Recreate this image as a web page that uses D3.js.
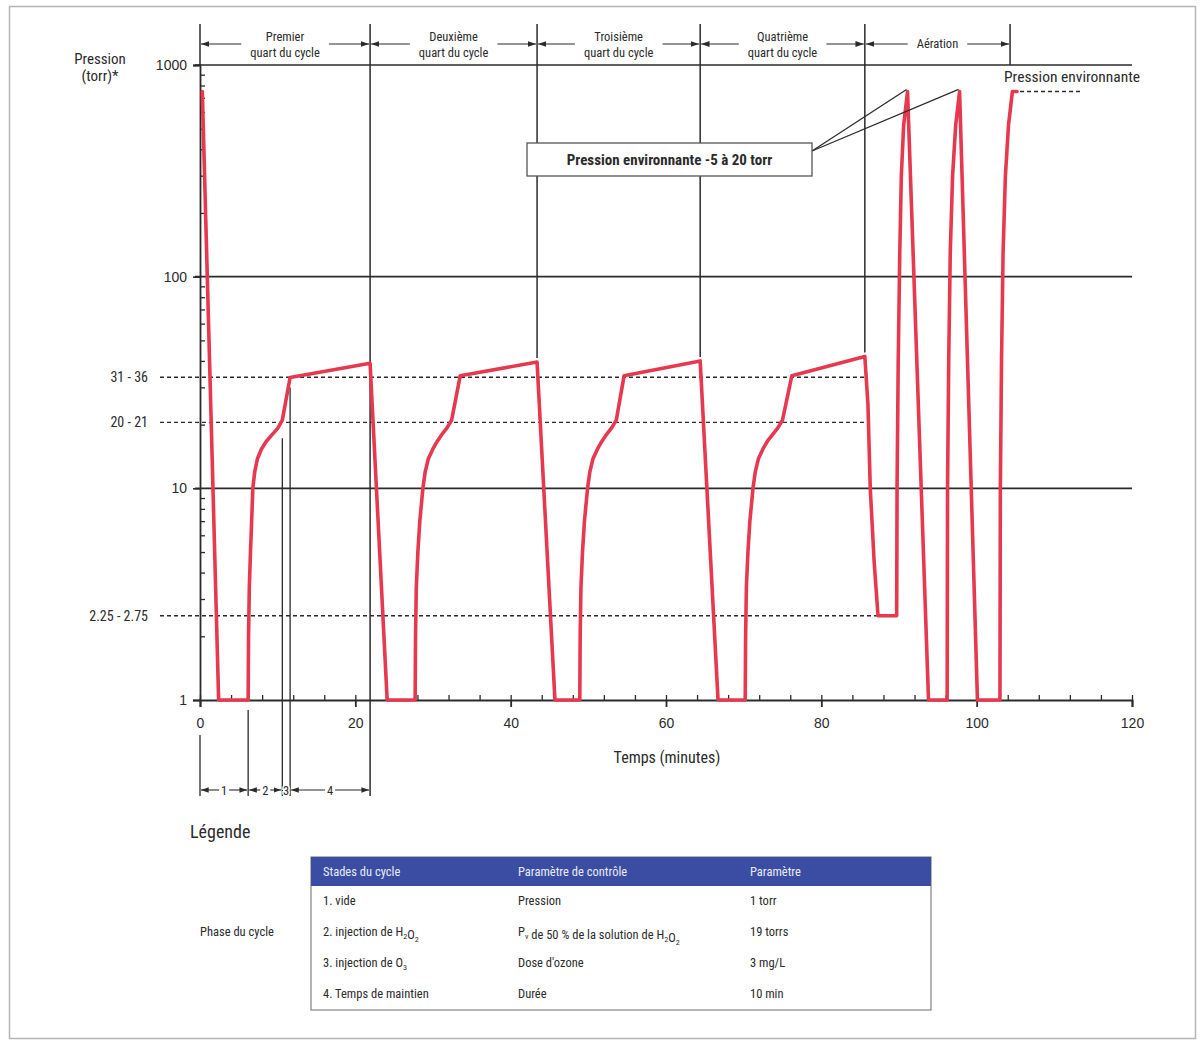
<!DOCTYPE html>
<html lang="fr">
<head>
<meta charset="utf-8">
<script src="https://cdn.jsdelivr.net/npm/d3@7/dist/d3.min.js"></script>
<style>
  body { margin: 0; background: #fff; }
  svg { display: block; font-family: "Liberation Sans Narrow", "Roboto Condensed", "Liberation Sans", Arial, sans-serif; }
  text { fill: #2b2b2b; }
</style>
</head>
<body>
<svg id="chart"></svg>
<script>
// pression (torr) vs temps (minutes)
const timeMin = [
  0.3, 2.4, 6.2, 6.25, 6.35, 6.5, 6.65, 6.8, 7.05, 7.4, 7.9, 8.5, 9.2, 10.0, 10.6, 11.6, 21.9,
  24.1, 27.7, 27.75, 27.85, 28.05, 28.3, 28.7, 29.0, 29.4, 30.0, 30.6, 31.2, 31.8, 32.4, 33.5, 43.4,
  45.7, 48.9, 48.95, 49.05, 49.25, 49.5, 49.9, 50.2, 50.6, 51.2, 51.8, 52.4, 53.0, 53.6, 54.6, 64.4,
  66.7, 70.2, 70.25, 70.35, 70.55, 70.8, 71.2, 71.5, 71.9, 72.5, 73.1, 73.8, 74.4, 75.0, 76.2, 85.6,
  86.0, 86.3, 86.8, 87.3, 89.7, 89.75, 89.9, 90.1, 90.3, 90.6, 91.1,
  93.8, 96.2, 96.25, 96.4, 96.6, 96.9, 97.3, 97.8,
  100.1, 103.0, 103.05, 103.2, 103.4, 103.7, 104.1, 104.6, 105.2
];
const pressureTorr = [
  750, 1, 1, 2, 3.4, 5, 7, 10, 12, 13.8, 15.3, 16.6, 17.8, 19.2, 21, 33.4, 39,
  1, 1, 2, 3.4, 5, 7, 10, 12, 13.8, 15.4, 16.8, 18.1, 19.3, 21, 34, 39.5,
  1, 1, 2, 3.4, 5, 7, 10, 12, 13.8, 15.4, 16.8, 18.1, 19.3, 21, 34, 40,
  1, 1, 2, 3.4, 5, 7, 10, 12, 13.8, 15.4, 16.8, 18.1, 19.3, 21, 34, 42,
  25, 10, 4.5, 2.5, 2.5, 10, 40, 130, 300, 520, 750,
  1, 1, 10, 40, 130, 300, 520, 750,
  1, 1, 10, 40, 130, 300, 520, 750, 750
];

const headerLabels = [["Premier", "quart du cycle"], ["Deuxième", "quart du cycle"], ["Troisième", "quart du cycle"], ["Quatrième", "quart du cycle"], ["Aération"]];
const headerBounds = [0, 21.9, 43.4, 64.4, 85.6, 104.3];
const quarterPeaks = [39, 39.5, 40, 42];

const stageLabels = ["1", "2", "3", "4"];
const stageBounds = [0, 6.2, 10.6, 11.6, 21.9];
const stageTopPressure = [null, null, 19.2, 33.4, null];

const yMajorTicks = [1, 10, 100, 1000];
const yRangeLabels = ["31 - 36", "20 - 21", "2.25 - 2.75"];
const yRangeValues = [33.5, 20.5, 2.5];
const yRangeEnds = [85.6, 85.6, 87.3];
const xMajorTicks = [0, 20, 40, 60, 80, 100, 120];

const calloutText = "Pression environnante -5 à 20 torr";
const calloutTargets = [[91.1, 750], [97.8, 750]];
const ambientLabel = "Pression environnante";
const ambientPressure = 750;

const legendHeader = ["Stades du cycle", "Paramètre de contrôle", "Paramètre"];
const legendRows = [
  ["1. vide", "Pression", "1 torr"],
  ["2. injection de H_2O_2", "P_v de 50 % de la solution de H_2O_2", "19 torrs"],
  ["3. injection de O_3", "Dose d'ozone", "3 mg/L"],
  ["4. Temps de maintien", "Durée", "10 min"]
];

const W = 1201, H = 1045;
const RED = "#e6394f";
const INK = "#2b2b2b";

const svg = d3.select("#chart").attr("width", W).attr("height", H);
svg.append("rect").attr("width", W).attr("height", H).attr("fill", "#fff");
svg.append("rect").attr("x", 9.5).attr("y", 6.5).attr("width", 1186).attr("height", 1032)
  .attr("fill", "none").attr("stroke", "#b5b5b5").attr("stroke-width", 1.5);

const x = d3.scaleLinear().domain([0, 120]).range([200, 1132]);
const y = d3.scaleLog().domain([1, 1000]).range([700, 65]);

const trace = timeMin.map((t, i) => ({t: t, p: pressureTorr[i]}));

// arrowheads
const defs = svg.append("defs");
defs.append("marker").attr("id", "arr").attr("viewBox", "0 0 10 10")
  .attr("refX", 10).attr("refY", 5).attr("markerWidth", 7).attr("markerHeight", 7)
  .attr("orient", "auto-start-reverse")
  .append("path").attr("d", "M0,1.5 L10,5 L0,8.5 z").attr("fill", INK);

function drawGrid() {
  // horizontal decade lines
  svg.selectAll(".hgrid").data([10, 100, 1000]).enter().append("line")
    .attr("x1", x(0) - 5).attr("x2", x(120))
    .attr("y1", d => y(d)).attr("y2", d => y(d))
    .attr("stroke", INK).attr("stroke-width", 1.6);

  // dashed reference levels
  yRangeValues.forEach((v, i) => {
    svg.append("line")
      .attr("x1", 160).attr("x2", x(yRangeEnds[i]))
      .attr("y1", y(v)).attr("y2", y(v))
      .attr("stroke", INK).attr("stroke-width", 1.4).attr("stroke-dasharray", "4,3");
    svg.append("text").attr("x", 148).attr("y", y(v) + 5)
      .attr("text-anchor", "end").attr("font-size", 14).text(yRangeLabels[i]);
  });
}

function drawAxes() {
  const yAxisL = d3.axisLeft(y).tickValues(yMajorTicks).tickSize(7).tickPadding(6).tickFormat(d3.format("d"));
  const gL = svg.append("g").attr("transform", "translate(" + x(0) + ",0)").call(yAxisL);
  gL.select(".domain").attr("stroke", INK).attr("stroke-width", 1.8);
  gL.selectAll(".tick line").attr("stroke", INK).attr("stroke-width", 1.6);
  gL.selectAll("text").attr("font-size", 14).attr("fill", INK).attr("font-family", null);

  const minor = [];
  [1, 10, 100].forEach(dec => { for (let k = 2; k <= 9; k++) minor.push(dec * k); });
  const gR = svg.append("g").attr("transform", "translate(" + x(0) + ",0)")
    .call(d3.axisRight(y).tickValues(minor).tickSize(5).tickFormat(""));
  gR.select(".domain").remove();
  gR.selectAll(".tick line").attr("stroke", INK).attr("stroke-width", 1.3);

  const gB = svg.append("g").attr("transform", "translate(0," + y(1) + ")")
    .call(d3.axisBottom(x).tickValues(xMajorTicks).tickSize(7).tickPadding(11));
  gB.select(".domain").attr("stroke", INK).attr("stroke-width", 1.8);
  gB.selectAll(".tick line").attr("stroke", INK).attr("stroke-width", 1.8);
  gB.selectAll("text").attr("font-size", 14).attr("fill", INK).attr("font-family", null);

  const gT = svg.append("g").attr("transform", "translate(0," + y(1) + ")")
    .call(d3.axisTop(x).tickValues(d3.range(0, 121, 4)).tickSize(5).tickFormat(""));
  gT.select(".domain").remove();
  gT.selectAll(".tick line").attr("stroke", INK).attr("stroke-width", 1.3);

  svg.append("text").attr("x", 667).attr("y", 763).attr("text-anchor", "middle")
    .attr("font-size", 16).text("Temps (minutes)");

  svg.append("text").attr("x", 100).attr("y", 64).attr("text-anchor", "middle")
    .attr("font-size", 15).text("Pression");
  svg.append("text").attr("x", 100).attr("y", 81).attr("text-anchor", "middle")
    .attr("font-size", 15).text("(torr)*");
}

function drawHeader() {
  const arrowY = 44;
  headerBounds.forEach((b, i) => {
    let bottom = y(1000);
    if (i >= 1 && i <= 4) bottom = y(quarterPeaks[i - 1]) - 4;
    // the first quarter line continues below the trace
    if (i === 1) bottom = 796;
    svg.append("line").attr("x1", x(b)).attr("x2", x(b))
      .attr("y1", 24).attr("y2", bottom)
      .attr("stroke", INK).attr("stroke-width", 1.5);
  });
  headerLabels.forEach((lines, i) => {
    const cx = (x(headerBounds[i]) + x(headerBounds[i + 1])) / 2;
    const t = svg.append("text").attr("text-anchor", "middle").attr("font-size", 12.5);
    if (lines.length === 2) {
      t.append("tspan").attr("x", cx).attr("y", 41).text(lines[0]);
      t.append("tspan").attr("x", cx).attr("y", 57).text(lines[1]);
    } else {
      t.append("tspan").attr("x", cx).attr("y", 48).text(lines[0]);
    }
    const bb = t.node().getBBox();
    const gap = 9;
    svg.append("line").attr("x1", bb.x - gap).attr("x2", x(headerBounds[i]) + 1)
      .attr("y1", arrowY).attr("y2", arrowY)
      .attr("stroke", INK).attr("stroke-width", 1.2).attr("marker-end", "url(#arr)");
    svg.append("line").attr("x1", bb.x + bb.width + gap).attr("x2", x(headerBounds[i + 1]) - 1)
      .attr("y1", arrowY).attr("y2", arrowY)
      .attr("stroke", INK).attr("stroke-width", 1.2).attr("marker-end", "url(#arr)");
  });
}

function drawStages() {
  const rowY = 790;
  stageBounds.forEach((b, i) => {
    if (i === stageBounds.length - 1) return;
    const top = stageTopPressure[i] ? y(stageTopPressure[i]) + 10 : y(1) + 10;
    svg.append("line").attr("x1", x(b)).attr("x2", x(b))
      .attr("y1", i === 0 ? 735 : top).attr("y2", 796)
      .attr("stroke", INK).attr("stroke-width", 1.3);
  });
  stageLabels.forEach((lab, i) => {
    const a = x(stageBounds[i]), b = x(stageBounds[i + 1]);
    const cx = (a + b) / 2;
    const half = lab === "3" ? 0 : 5;
    if (half > 0) {
      svg.append("line").attr("x1", cx - half).attr("x2", a + 1).attr("y1", rowY).attr("y2", rowY)
        .attr("stroke", INK).attr("stroke-width", 1.1).attr("marker-end", "url(#arr)");
      svg.append("line").attr("x1", cx + half).attr("x2", b - 1).attr("y1", rowY).attr("y2", rowY)
        .attr("stroke", INK).attr("stroke-width", 1.1).attr("marker-end", "url(#arr)");
    }
    svg.append("text").attr("x", cx).attr("y", rowY + 4.5).attr("text-anchor", "middle")
      .attr("font-size", 12.5).attr("paint-order", "stroke").attr("stroke", "#fff").attr("stroke-width", 3)
      .text(lab);
  });
}

function drawTrace() {
  const line = d3.line().x(d => x(d.t)).y(d => y(d.p));
  svg.append("path").datum(trace)
    .attr("d", line)
    .attr("fill", "none").attr("stroke", RED).attr("stroke-width", 3.6)
    .attr("stroke-linejoin", "round").attr("stroke-linecap", "round");

  // ambient pressure dashed continuation
  const last = trace[trace.length - 1];
  svg.append("line").attr("x1", x(last.t) + 3).attr("x2", 1080)
    .attr("y1", y(ambientPressure)).attr("y2", y(ambientPressure))
    .attr("stroke", INK).attr("stroke-width", 1.4).attr("stroke-dasharray", "4,3");
  svg.append("text").attr("x", 1004).attr("y", 82).attr("font-size", 15.5).text(ambientLabel);
}

function drawCallout() {
  const bx = 527, by = 143, bw = 285, bh = 33;
  calloutTargets.forEach(d => {
    svg.append("line").attr("x1", bx + bw).attr("y1", by + 8)
      .attr("x2", x(d[0]) - 1).attr("y2", y(d[1]) - 2)
      .attr("stroke", INK).attr("stroke-width", 1.3);
  });
  svg.append("rect").attr("x", bx).attr("y", by).attr("width", bw).attr("height", bh)
    .attr("fill", "#fff").attr("stroke", "#555").attr("stroke-width", 1.3);
  svg.append("text").attr("x", bx + bw / 2).attr("y", by + 22).attr("text-anchor", "middle")
    .attr("font-size", 15).attr("font-weight", "bold").attr("fill", "#3a3a3a").text(calloutText);
}

function richText(sel, str, size) {
  str.split(/(_\w)/).forEach(part => {
    if (!part) return;
    if (part[0] === "_") {
      sel.append("tspan").attr("font-size", size * 0.65).attr("dy", 3).text(part.slice(1));
      sel.append("tspan").attr("dy", -3).text("");
    } else {
      sel.append("tspan").text(part);
    }
  });
}

function drawLegend() {
  svg.append("text").attr("x", 190).attr("y", 838).attr("font-size", 18)
    .attr("fill", "#333").text("Légende");

  const tx = 311, ty = 857, tw = 620, th = 153, hh = 29;
  const cols = [323, 518, 750];
  svg.append("rect").attr("x", tx).attr("y", ty).attr("width", tw).attr("height", th)
    .attr("fill", "#fff").attr("stroke", "#8d8d8d").attr("stroke-width", 1.3);
  svg.append("rect").attr("x", tx).attr("y", ty).attr("width", tw).attr("height", hh)
    .attr("fill", "#3b4da3");
  legendHeader.forEach((h, i) => {
    svg.append("text").attr("x", cols[i]).attr("y", ty + 19).attr("font-size", 12.5)
      .style("fill", "#e8ebf6").text(h);
  });
  legendRows.forEach((row, r) => {
    row.forEach((cell, c) => {
      const t = svg.append("text").attr("x", cols[c]).attr("y", 905 + r * 31).attr("font-size", 12.5);
      richText(t, cell, 12.5);
    });
  });
  svg.append("text").attr("x", 200).attr("y", 936).attr("font-size", 12.5).text("Phase du cycle");
}

drawGrid();
drawHeader();
drawStages();
drawAxes();
drawTrace();
drawCallout();
drawLegend();
</script>
</body>
</html>
